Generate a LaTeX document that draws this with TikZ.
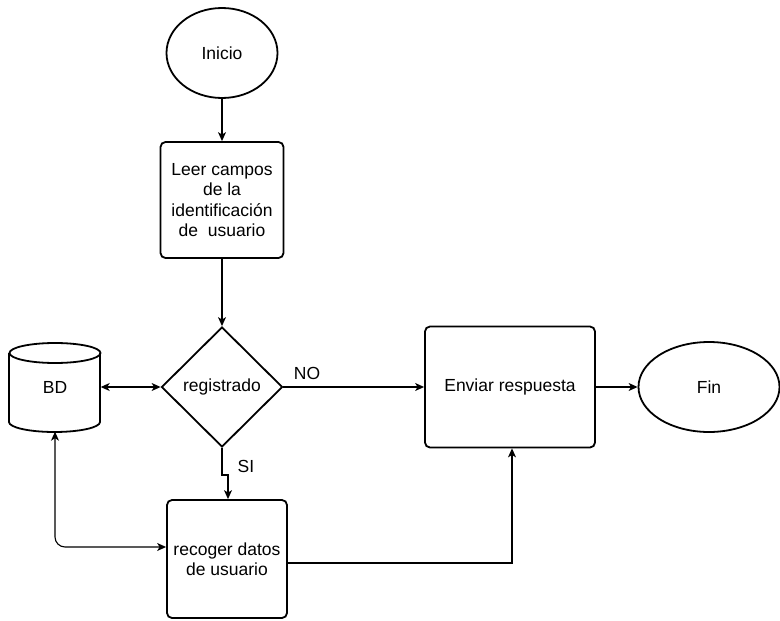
\documentclass[tikz,border=0pt]{standalone}
\usepackage{fontspec}
\setmainfont{Liberation Sans}
\usetikzlibrary{shapes.geometric,arrows.meta,positioning}
\begin{document}
\begin{tikzpicture}[x=1pt,y=-1pt,
  every node/.style={font=\fontsize{17.5}{20.5}\selectfont, align=center, inner sep=0pt},
  shp/.style={draw, line width=1.8pt},
  boxs/.style={shp, rounded corners=5pt},
  ell/.style={shp, ellipse},
  conn/.style={line width=1.1pt, -{Stealth[length=9pt,width=8pt,inset=2.5pt]}},
  dconn/.style={line width=1.1pt, {Stealth[length=9pt,width=8pt,inset=2.5pt]}-{Stealth[length=9pt,width=8pt,inset=2.5pt]}},
  lbl/.style={font=\fontsize{17.5}{20.5}\selectfont}
]
\useasboundingbox (0,0) rectangle (780,621);
\fill[white] (0,0) rectangle (780,621);

\node[ell, minimum width=111pt, minimum height=90pt] (inicio) at (222,53) {Inicio};
\node[boxs, minimum width=123pt, minimum height=116pt] (leer) at (222,200) {Leer campos\\de la\\identificación\\de\ \ usuario};
\node[shp, diamond, minimum width=121pt, minimum height=120pt, aspect=1] (reg) at (222,387) {registrado};
\node[minimum width=91pt, minimum height=89pt] (bd) at (55,387) {BD};
\draw[line width=1.8pt] (9,353) -- (9,422) arc[start angle=180, end angle=360, x radius=45.5pt, y radius=10pt] -- (100,353);
\draw[line width=1.8pt] (55,353) ellipse[x radius=45.5pt, y radius=10pt];
\node[boxs, minimum width=120pt, minimum height=118pt] (rec) at (227,559) {recoger datos\\de usuario};
\node[boxs, minimum width=170pt, minimum height=121pt] (env) at (510,387) {Enviar respuesta};
\node[ell, minimum width=141pt, minimum height=90pt] (fin) at (709,387) {Fin};

\draw[conn] (inicio) -- (leer);
\draw[conn] (leer) -- (reg);
\draw[dconn] (bd) -- (reg);
\draw[conn] (reg.south) -- (222,475) -- (228,475) -- (rec.north -| 228,0);
\node[lbl] (si) at (246,466) {SI};
\draw[conn] (reg.east) -- (env.west);
\node[lbl] (no) at (307,373) {NO};
\draw[conn] (env) -- (fin);
\draw[dconn, rounded corners=10pt] (bd.south) -- (55,547) -- (rec.west |- 0,547);
\draw[conn] (rec.east |- 0,563) -- (512,563) -- (env.south -| 512,0);
\end{tikzpicture}
\end{document}
